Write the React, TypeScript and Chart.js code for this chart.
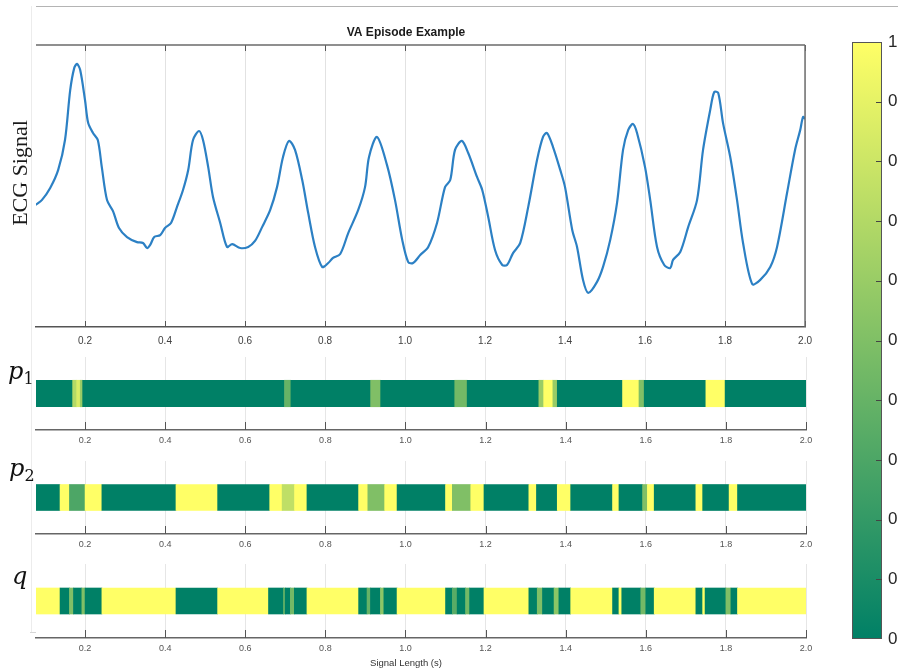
import React, { useEffect, useRef } from 'react';
import { Chart, registerables } from 'chart.js';
Chart.register(...registerables);
Chart.defaults.font.family = "'Liberation Sans', Arial, sans-serif";

// ---------- data ----------
const X_MIN = 0.0775;
const X_MAX = 2.0;
const xTickValues = [0.2, 0.4, 0.6, 0.8, 1.0, 1.2, 1.4, 1.6, 1.8, 2.0];

const ecgTime = [
  0.077, 0.092, 0.113, 0.133, 0.150, 0.163, 0.173, 0.180, 0.188, 0.200,
  0.208, 0.220, 0.232, 0.242, 0.255, 0.270, 0.285, 0.305, 0.330, 0.345,
  0.355, 0.363, 0.373, 0.388, 0.400, 0.415, 0.430, 0.445, 0.458, 0.470,
  0.485, 0.495, 0.508, 0.520, 0.538, 0.555, 0.568, 0.588, 0.608, 0.625,
  0.643, 0.663, 0.680, 0.695, 0.710, 0.725, 0.743, 0.758, 0.775, 0.793,
  0.808, 0.820, 0.838, 0.858, 0.883, 0.900, 0.910, 0.930, 0.955, 0.975,
  0.993, 1.008, 1.020, 1.038, 1.058, 1.080, 1.100, 1.113, 1.125, 1.142,
  1.158, 1.180, 1.193, 1.208, 1.225, 1.243, 1.255, 1.270, 1.288, 1.308,
  1.330, 1.345, 1.355, 1.370, 1.388, 1.400, 1.418, 1.430, 1.445, 1.458,
  1.480, 1.495, 1.513, 1.530, 1.545, 1.558, 1.570, 1.580, 1.600, 1.613,
  1.630, 1.648, 1.663, 1.670, 1.688, 1.708, 1.730, 1.745, 1.763, 1.773,
  1.783, 1.795, 1.813, 1.830, 1.845, 1.868, 1.888, 1.913, 1.930, 1.955,
  1.975, 1.988, 1.995, 2.000,
];
const ecgAmp = [
  0.433, 0.450, 0.493, 0.557, 0.663, 0.840, 0.918, 0.933, 0.911, 0.805,
  0.723, 0.688, 0.663, 0.567, 0.450, 0.411, 0.351, 0.319, 0.301, 0.298,
  0.280, 0.291, 0.319, 0.326, 0.351, 0.369, 0.426, 0.486, 0.557, 0.663,
  0.695, 0.663, 0.567, 0.461, 0.369, 0.284, 0.294, 0.280, 0.284, 0.305,
  0.355, 0.415, 0.496, 0.603, 0.660, 0.628, 0.521, 0.404, 0.284, 0.213,
  0.227, 0.245, 0.259, 0.333, 0.415, 0.496, 0.603, 0.674, 0.574, 0.450,
  0.309, 0.230, 0.227, 0.255, 0.284, 0.369, 0.496, 0.521, 0.628, 0.660,
  0.617, 0.532, 0.486, 0.390, 0.273, 0.220, 0.220, 0.262, 0.298, 0.426,
  0.592, 0.674, 0.688, 0.638, 0.557, 0.496, 0.344, 0.284, 0.167, 0.121,
  0.160, 0.213, 0.309, 0.440, 0.628, 0.699, 0.720, 0.688, 0.567, 0.450,
  0.284, 0.220, 0.209, 0.238, 0.266, 0.355, 0.450, 0.628, 0.770, 0.833,
  0.830, 0.723, 0.603, 0.450, 0.298, 0.152, 0.167, 0.213, 0.284, 0.475,
  0.628, 0.699, 0.745, 0.738,
];

const p1Edges = [0.0775, 0.169, 0.179, 0.188, 0.194, 0.698, 0.714, 0.913, 0.938, 1.123, 1.154,
  1.333, 1.345, 1.368, 1.379, 1.542, 1.583, 1.596, 1.75, 1.798, 2.0];
const p1Values = [0, 0.7, 0.85, 0.6, 0, 0.4, 0, 0.5, 0, 0.45, 0, 0.6, 1, 0.6, 0, 1, 0.5, 0, 1, 0];

const p2Edges = [0.0775, 0.1375, 0.161, 0.2, 0.242, 0.427, 0.531, 0.661, 0.692, 0.723, 0.754,
  0.883, 0.906, 0.948, 0.979, 1.1, 1.117, 1.163, 1.196, 1.308, 1.327, 1.379, 1.4125, 1.517,
  1.533, 1.592, 1.604, 1.621, 1.725, 1.742, 1.808, 1.829, 2.0];
const p2Values = [0, 1, 0.3, 1, 0, 1, 0, 1, 0.75, 1, 0, 1, 0.5, 1, 0, 1, 0.5, 1, 0, 1, 0, 1, 0,
  1, 0, 0.5, 1, 0, 1, 0, 1, 0];

const qEdges = [0.0775, 0.1375, 0.161, 0.171, 0.192, 0.2, 0.242, 0.427, 0.531, 0.658, 0.695,
  0.7, 0.7125, 0.7225, 0.754, 0.883, 0.904, 0.9125, 0.9375, 0.946, 0.979, 1.1, 1.117, 1.129,
  1.15, 1.16, 1.196, 1.308, 1.329, 1.342, 1.371, 1.383, 1.4125, 1.517, 1.533, 1.54, 1.5875,
  1.6, 1.621, 1.725, 1.742, 1.748, 1.8, 1.8125, 1.829, 2.0];
const qValues = [1, 0, 0.5, 0, 0.5, 0, 1, 0, 1, 0, 0.35, 0, 0.45, 0, 1, 0, 0.4, 0, 0.55, 0, 1,
  0, 0.35, 0, 0.45, 0, 1, 0, 0.5, 0, 0.55, 0, 1, 0, 1, 0, 0.45, 0, 1, 0, 1, 0, 0.5, 0, 1];

const colorbarMin = 0;
const colorbarMax = 1;

// ---------- helpers ----------
function summer(v: number): string {
  const r = Math.round(255 * v);
  const g = Math.round(255 * (0.5 + 0.5 * v));
  return `rgb(${r},${g},102)`;
}

const setXTicks = (scale: any) => {
  scale.ticks = xTickValues.map((v) => ({ value: v }));
};

const inTicks = {
  id: 'inTicks',
  afterDraw(chart: any, _args: any, opts: any) {
    const { ctx, chartArea: a } = chart;
    if (!a) return;
    const len = opts.len || 6;
    ctx.save();
    ctx.strokeStyle = opts.color || '#555';
    ctx.lineWidth = 1;
    const line = (x1: number, y1: number, x2: number, y2: number) => {
      ctx.beginPath();
      ctx.moveTo(x1, y1);
      ctx.lineTo(x2, y2);
      ctx.stroke();
    };
    if (opts.bottom || opts.top) {
      const s = chart.scales.x;
      for (const t of s.ticks) {
        const px = Math.round(s.getPixelForValue(t.value)) + 0.5;
        if (opts.bottom) line(px, a.bottom, px, a.bottom - len);
        if (opts.top) line(px, a.top, px, a.top + len);
      }
    }
    if (opts.yRight) {
      const s = chart.scales.y;
      for (const t of s.ticks) {
        if (t.value <= colorbarMin + 1e-6 || t.value >= colorbarMax - 1e-6) continue;
        const py = Math.round(s.getPixelForValue(t.value)) + 0.5;
        line(a.right, py, a.right - len, py);
      }
    }
    if (opts.box) {
      ctx.strokeStyle = opts.boxColor || '#666';
      ctx.lineWidth = 1.5;
      line(a.left, a.top, a.right, a.top);
      line(a.right, a.top, a.right, a.bottom);
    }
    ctx.restore();
  },
};

function ecgConfig(): any {
  return {
    type: 'line',
    data: {
      datasets: [{
        data: ecgTime.map((t, i) => ({ x: t, y: ecgAmp[i] })),
        borderColor: '#2c80c4',
        borderWidth: 2.2,
        pointRadius: 0,
        tension: 0.3,
        fill: false,
      }],
    },
    options: {
      animation: false,
      responsive: false,
      events: [],
      layout: { padding: { left: 6, right: 14, top: 0, bottom: 0 } },
      plugins: {
        legend: { display: false },
        tooltip: { enabled: false },
        title: {
          display: true,
          text: 'VA Episode Example',
          font: { size: 12, weight: 'bold' },
          color: '#1a1a1a',
          padding: { top: 25, bottom: 5.6 },
        },
        inTicks: { bottom: true, top: true, box: true, len: 6, color: '#555', boxColor: '#6a6a6a' },
      },
      scales: {
        x: {
          type: 'linear',
          min: X_MIN,
          max: X_MAX,
          afterBuildTicks: setXTicks,
          afterFit: (s: any) => { s.height = 25; },
          grid: {
            color: (c: any) => (c.tick && c.tick.value >= 1.999 ? 'rgba(0,0,0,0)' : '#e2e2e2'),
            drawTicks: false,
          },
          border: { color: '#555', width: 1.5 },
          ticks: {
            padding: 8,
            font: { size: 10 },
            color: '#404040',
            maxRotation: 0,
            autoSkip: false,
            callback: (v: any) => Number(v).toFixed(1),
          },
        },
        y: {
          min: 0,
          max: 1,
          ticks: { display: false },
          grid: { display: false },
          border: { display: false },
          afterFit: (s: any) => { s.width = 30; },
        },
      },
    },
    plugins: [inTicks],
  };
}

function stripConfig(name: string, edges: number[], values: number[], thickness: number): any {
  const segs = values.map((_, i) => ({ x: [edges[i], edges[i + 1]], y: name }));
  return {
    type: 'bar',
    data: {
      labels: [name],
      datasets: [{
        data: segs,
        backgroundColor: values.map(summer),
        borderWidth: 0,
        barThickness: thickness,
      }],
    },
    options: {
      indexAxis: 'y',
      animation: false,
      responsive: false,
      events: [],
      layout: { padding: { left: 36, right: 14, top: 7, bottom: 0 } },
      plugins: {
        legend: { display: false },
        tooltip: { enabled: false },
        inTicks: { bottom: true, len: 8, color: '#555' },
      },
      scales: {
        x: {
          type: 'linear',
          min: X_MIN,
          max: X_MAX,
          afterBuildTicks: setXTicks,
          afterFit: (s: any) => { s.height = 22; },
          grid: { color: '#e6e6e6', drawTicks: false },
          border: { color: '#666', width: 1.5 },
          ticks: {
            padding: 5,
            font: { size: 9 },
            color: '#555',
            maxRotation: 0,
            autoSkip: false,
            callback: (v: any) => Number(v).toFixed(1),
          },
        },
        y: { display: false },
      },
    },
    plugins: [inTicks],
  };
}

function colorbarConfig(): any {
  return {
    type: 'bar',
    data: {
      labels: ['colorbar'],
      datasets: [{
        data: [[colorbarMin, colorbarMax]],
        backgroundColor: (c: any) => {
          const a = c.chart.chartArea;
          if (!a) return summer(0);
          const g = c.chart.ctx.createLinearGradient(0, a.bottom, 0, a.top);
          g.addColorStop(0, summer(0));
          g.addColorStop(1, summer(1));
          return g;
        },
        borderColor: '#555',
        borderWidth: 1,
        borderSkipped: false,
        categoryPercentage: 1,
        barPercentage: 1,
        inflateAmount: 0,
      }],
    },
    options: {
      animation: false,
      responsive: false,
      events: [],
      layout: { padding: { left: 32, right: 0, top: 12, bottom: 11 } },
      plugins: {
        legend: { display: false },
        tooltip: { enabled: false },
        inTicks: { yRight: true, len: 6, color: '#444' },
      },
      scales: {
        x: { display: false },
        y: {
          position: 'right',
          min: colorbarMin,
          max: colorbarMax,
          afterFit: (s: any) => {
            s.width = 16;
            s.paddingTop = 0;
            s.paddingBottom = 0;
          },
          grid: { display: false, drawTicks: false },
          border: { display: false },
          ticks: {
            stepSize: 0.1,
            padding: 6,
            font: { size: 17 },
            color: '#262626',
            callback: (v: any) => {
              const n = Number(v);
              if (Math.abs(n) < 1e-6) return '0';
              if (Math.abs(n - 1) < 1e-6) return '1';
              return n.toFixed(1);
            },
          },
        },
      },
    },
    plugins: [inTicks],
  };
}

function ChartBox(props: { left: number; top: number; width: number; height: number; make: () => any }) {
  const ref = useRef<HTMLCanvasElement>(null);
  useEffect(() => {
    const chart = new Chart(ref.current as HTMLCanvasElement, props.make());
    return () => chart.destroy();
  }, []);
  return (
    <canvas
      ref={ref}
      width={props.width}
      height={props.height}
      style={{ position: 'absolute', left: props.left, top: props.top, width: props.width, height: props.height }}
    />
  );
}

const serif = "'DejaVu Serif', 'Liberation Serif', serif";

function VarLabel(props: { left: number; top: number; main: string; sub?: string }) {
  return (
    <div
      style={{
        position: 'absolute', left: props.left, top: props.top, fontFamily: serif,
        fontStyle: 'italic', fontSize: 24, lineHeight: '24px', color: '#111', whiteSpace: 'nowrap',
      }}
    >
      {props.main}
      {props.sub ? (
        <span style={{ fontStyle: 'normal', fontSize: 16, position: 'relative', top: 5 }}>{props.sub}</span>
      ) : null}
    </div>
  );
}

export default function App() {
  return (
    <div style={{ position: 'fixed', left: 0, top: 0, width: 898, height: 671, background: '#fff', overflow: 'hidden' }}>
      <div style={{ position: 'absolute', left: 36, top: 6, width: 862, height: 1, background: '#b4b4b4' }} />
      <div style={{ position: 'absolute', left: 31, top: 6, width: 1, height: 626, background: '#ececec' }} />
      <div style={{ position: 'absolute', left: 30, top: 632, width: 6, height: 1, background: '#d6d6d6' }} />

      <ChartBox left={0} top={0} width={820} height={352} make={ecgConfig} />
      <ChartBox left={0} top={350} width={820} height={102} make={() => stripConfig('p1', p1Edges, p1Values, 26.5)} />
      <ChartBox left={0} top={454} width={820} height={102} make={() => stripConfig('p2', p2Edges, p2Values, 26)} />
      <ChartBox left={0} top={557} width={820} height={103} make={() => stripConfig('q', qEdges, qValues, 26)} />
      <ChartBox left={820} top={30} width={78} height={620} make={colorbarConfig} />

      <div
        style={{
          position: 'absolute', left: 20, top: 173, transform: 'translate(-50%, -50%) rotate(-90deg)',
          fontFamily: "'Liberation Serif', serif", fontSize: 22, lineHeight: '22px', color: '#1a1a1a', whiteSpace: 'nowrap',
        }}
      >
        ECG Signal
      </div>

      <VarLabel left={8} top={359} main="p" sub="1" />
      <VarLabel left={9} top={456} main="p" sub="2" />
      <VarLabel left={12} top={564} main="q" />

      <div
        style={{
          position: 'absolute', left: 406, top: 662, transform: 'translate(-50%, -50%)',
          fontFamily: "'Liberation Sans', Arial, sans-serif", fontSize: 9.5, color: '#333', whiteSpace: 'nowrap',
        }}
      >
        Signal Length (s)
      </div>
    </div>
  );
}
